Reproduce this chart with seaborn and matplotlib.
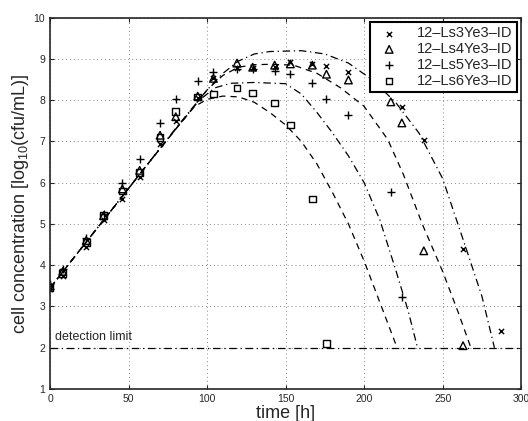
import matplotlib
matplotlib.use("Agg")
import matplotlib.pyplot as plt
import seaborn as sns
import numpy as np

# measured data (time in h, log10 cfu/mL)
t_ls3 = [0, 8, 23, 34, 46, 57, 70, 80, 94, 104, 119, 129, 143, 153, 167, 176, 190, 224, 238, 263, 287]
y_ls3 = [3.42, 3.75, 4.45, 5.1, 5.6, 6.15, 6.95, 7.5, 8.05, 8.55, 8.78, 8.78, 8.8, 8.93, 8.88, 8.83, 8.68, 7.83, 7.03, 4.4, 2.4]

t_ls4 = [0, 8, 23, 34, 46, 57, 70, 80, 94, 104, 119, 129, 143, 153, 167, 176, 190, 217, 224, 238, 263]
y_ls4 = [3.5, 3.85, 4.6, 5.2, 5.85, 6.3, 7.15, 7.6, 8.1, 8.53, 8.9, 8.8, 8.85, 8.88, 8.85, 8.63, 8.49, 7.96, 7.45, 4.35, 2.05]

t_ls5 = [0, 8, 23, 34, 46, 57, 70, 80, 94, 104, 119, 129, 143, 153, 167, 176, 190, 217, 224]
y_ls5 = [3.55, 3.9, 4.65, 5.25, 6.0, 6.57, 7.45, 8.02, 8.46, 8.68, 8.75, 8.75, 8.7, 8.63, 8.41, 8.03, 7.64, 5.78, 3.24]

t_ls6 = [0, 8, 23, 34, 46, 57, 70, 80, 94, 104, 119, 129, 143, 153, 167, 176]
y_ls6 = [3.45, 3.8, 4.55, 5.2, 5.8, 6.25, 7.1, 7.72, 8.08, 8.15, 8.3, 8.17, 7.93, 7.4, 5.6, 2.1]

# fitted model curves
fit_t3 = [0, 20, 40, 60, 80, 100, 110, 120, 130, 140, 160, 175, 190, 205, 220, 235, 250, 265, 275, 283]
fit_y3 = [3.45, 4.42, 5.38, 6.35, 7.32, 8.25, 8.65, 8.95, 9.12, 9.18, 9.2, 9.12, 8.9, 8.5, 7.95, 7.2, 6.1, 4.4, 3.25, 2.0]

fit_t4 = [0, 20, 40, 60, 80, 100, 110, 120, 130, 140, 155, 170, 185, 200, 215, 225, 237, 250, 260, 268]
fit_y4 = [3.45, 4.42, 5.38, 6.35, 7.3, 8.25, 8.6, 8.8, 8.86, 8.87, 8.85, 8.65, 8.3, 7.85, 7.05, 6.2, 5.0, 3.85, 2.85, 2.0]

fit_t5 = [0, 20, 40, 60, 80, 95, 105, 115, 130, 150, 160, 170, 180, 190, 200, 210, 220, 228, 234]
fit_y5 = [3.45, 4.42, 5.38, 6.35, 7.3, 8.0, 8.3, 8.41, 8.43, 8.4, 8.15, 7.7, 7.2, 6.65, 6.0, 5.1, 3.9, 2.9, 2.0]

fit_t6 = [0, 20, 40, 60, 80, 92, 100, 110, 120, 130, 140, 150, 160, 170, 180, 190, 200, 210, 221]
fit_y6 = [3.45, 4.42, 5.38, 6.35, 7.3, 7.85, 8.02, 8.1, 8.08, 7.95, 7.7, 7.4, 7.0, 6.45, 5.75, 5.0, 4.1, 3.1, 2.0]

det_limit = 2.0
labels = ["12\u2013Ls3Ye3\u2013ID", "12\u2013Ls4Ye3\u2013ID", "12\u2013Ls5Ye3\u2013ID", "12\u2013Ls6Ye3\u2013ID"]

sns.set_style("ticks")
plt.rcParams["font.family"] = ["Liberation Sans", "DejaVu Sans"]
plt.rcParams["mathtext.fontset"] = "custom"
plt.rcParams["mathtext.rm"] = "Liberation Sans"

fig = plt.figure(figsize=(5.28, 4.21), dpi=100)
ax = fig.add_axes([0.095, 0.076, 0.892, 0.882])

# model curves
for ft, fy, ls in [(fit_t3, fit_y3, (0, (6, 3, 1, 3))), (fit_t4, fit_y4, (0, (5, 4))),
                   (fit_t5, fit_y5, (0, (6, 3, 1, 3))), (fit_t6, fit_y6, (0, (5, 4)))]:
    sns.lineplot(x=ft, y=fy, ax=ax, color="k", lw=0.9, sort=False, estimator=None,
                 linestyle=ls, legend=False)

# detection limit
ax.axhline(det_limit, color="k", lw=0.9, linestyle=(0, (6, 3, 1, 3)))
ax.text(3, 2.12, "detection limit", fontsize=9, ha="left", va="bottom")

# measurements
sns.scatterplot(x=t_ls3, y=y_ls3, ax=ax, marker="x", s=14, color="k", linewidth=1.0, label=labels[0])
sns.scatterplot(x=t_ls4, y=y_ls4, ax=ax, marker="^", s=30, facecolor="none", edgecolor="k", linewidth=1.0, label=labels[1])
sns.scatterplot(x=t_ls5, y=y_ls5, ax=ax, marker="+", s=30, color="k", linewidth=1.0, label=labels[2])
sns.scatterplot(x=t_ls6, y=y_ls6, ax=ax, marker="s", s=22, facecolor="none", edgecolor="k", linewidth=1.0, label=labels[3])

ax.set_xlim(0, 300)
ax.set_ylim(1, 10)
ax.set_xticks(np.arange(0, 301, 50))
ax.set_yticks(np.arange(1, 11, 1))
ax.tick_params(direction="in", labelsize=7.5, length=3, top=True, right=True)
ax.grid(True, color="#888888", linestyle=(0, (1, 3)), lw=0.7)
for sp in ax.spines.values():
    sp.set_linewidth(1.2)
    sp.set_visible(True)

ax.set_xlabel("time [h]", fontsize=13, labelpad=1)
ax.set_ylabel("cell concentration [log$_{10}$(cfu/mL)]", fontsize=13, labelpad=2)

leg = ax.legend(loc="upper right", fontsize=10.5, frameon=True, fancybox=False,
                borderpad=0.3, labelspacing=0.12, handletextpad=0.9, borderaxespad=0.3)
leg.get_frame().set_edgecolor("k")
leg.get_frame().set_linewidth(1.5)
leg.get_frame().set_alpha(1)

fig.savefig("out.png", dpi=100)
